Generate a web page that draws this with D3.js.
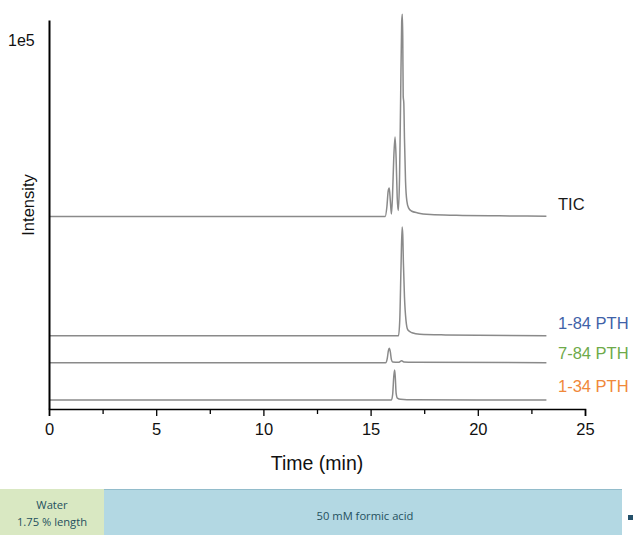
<!DOCTYPE html>
<html><head><meta charset="utf-8">
<script src="https://cdn.jsdelivr.net/npm/d3@7"></script>
<style>body{margin:0;background:#fff}svg{display:block}</style>
</head><body>
<svg id="c" width="634" height="535"></svg>
<script>
// ---- data (intensity in x1e5 arbitrary units, time in min) ----
const seriesNames = ["TIC", "1-84 PTH", "7-84 PTH", "1-34 PTH"];
const seriesColors = ["#1a1a1a", "#3f62a8", "#6eaa4a", "#f0883a"];
const seriesOffsets = [49.5, 18.8, 11.9, 2.3];
const ticData = [[0,0],[15.68,0],[15.76,2.5],[15.82,6.5],[15.87,7.3],[15.92,4],[15.97,0.6],[16.02,5],[16.08,15],[16.14,20.4],[16.19,15],[16.24,5],[16.29,1.5],[16.35,10],[16.40,30],[16.45,50],[16.48,52],[16.50,46],[16.52,31],[16.55,29],[16.58,20],[16.63,9],[16.69,4],[16.77,2.2],[16.9,1.4],[17.2,0.9],[17.8,0.5],[19,0.3],[21,0.15],[23.2,0.05]];
const pth184Data = [[0,0],[16.30,0],[16.36,4],[16.42,18],[16.47,28],[16.50,26],[16.53,18.8],[16.58,10],[16.65,4],[16.74,1.5],[16.93,0.8],[17.3,0.4],[18.5,0.25],[23.2,0.05]];
const pth784Data = [[0,0],[15.70,0],[15.78,1.2],[15.83,3.1],[15.87,3.7],[15.92,2.8],[15.97,0.8],[16.03,0.2],[16.3,0.1],[16.45,0.5],[16.55,0.2],[17,0.1],[23.2,0]];
const pth134Data = [[0,0],[15.97,0],[16.03,1.5],[16.08,6],[16.12,7.7],[16.15,6],[16.19,1.8],[16.25,0.5],[16.4,0.2],[17,0.05],[23.2,0]];
const seriesData = [ticData, pth184Data, pth784Data, pth134Data];
const xTicks = [0, 5, 10, 15, 20, 25];
const xMinorTicks = [2.5, 7.5, 12.5, 17.5, 22.5];
const bandLabels = [["Water", "1.75 % length"], ["50 mM formic acid"]];

// ---- drawing ----
const svg = d3.select("#c");
const x = d3.scaleLinear().domain([0, 25]).range([49, 585]);
const y = d3.scaleLinear().domain([0, 100]).range([409, 20]);
const font = "'Liberation Sans', Arial, sans-serif";

const line = d3.line().x(d => x(d[0])).y(d => y(d[1])).curve(d3.curveMonotoneX);
seriesData.forEach((data, i) => {
  const off = seriesOffsets[i];
  svg.append("path")
    .datum(data.map(d => [d[0], d[1] + off]))
    .attr("d", line)
    .attr("fill", "none")
    .attr("stroke", "#8a8a8a")
    .attr("stroke-width", 1.5);
});

// x axis
const xAxis = svg.append("g").attr("transform", `translate(0,${y(0)})`)
  .call(d3.axisBottom(x).tickValues(xTicks).tickSize(7).tickPadding(7).tickFormat(d3.format("d")));
xAxis.select(".domain").attr("stroke", "#000").attr("stroke-width", 1.6);
xAxis.selectAll(".tick line").attr("stroke", "#000").attr("stroke-width", 1.3);
xAxis.selectAll(".tick text").attr("font-family", font).attr("font-size", 16.5).attr("fill", "#111");
const xMinor = svg.append("g").attr("transform", `translate(0,${y(0)})`)
  .call(d3.axisBottom(x).tickValues(xMinorTicks).tickSize(5).tickFormat(""));
xMinor.select(".domain").remove();
xMinor.selectAll(".tick line").attr("stroke", "#000").attr("stroke-width", 1.3);

// y axis (line only)
const yAxis = svg.append("g").attr("transform", `translate(${x(0)},0)`)
  .call(d3.axisLeft(y).tickValues([]).tickSizeOuter(0));
yAxis.select(".domain").attr("stroke", "#000").attr("stroke-width", 2);

svg.append("text").attr("x", 8).attr("y", 46).text("1e5")
  .attr("font-family", font).attr("font-size", 16).attr("fill", "#111");
svg.append("text").attr("transform", "translate(34,205) rotate(-90)")
  .attr("text-anchor", "middle").text("Intensity")
  .attr("font-family", font).attr("font-size", 16.5).attr("fill", "#111");
svg.append("text").attr("x", (x(0) + x(25)) / 2).attr("y", 470)
  .attr("text-anchor", "middle").text("Time (min)")
  .attr("font-family", font).attr("font-size", 19.5).attr("fill", "#111");

// series labels
const labelY = [210, 329, 359, 392];
seriesNames.forEach((n, i) => {
  svg.append("text").attr("x", 558).attr("y", labelY[i]).text(n)
    .attr("font-family", font).attr("font-size", 16.5).attr("fill", seriesColors[i]);
});

// solvent band
const bandFont = "'Open Sans', 'Noto Sans', sans-serif";
svg.append("rect").attr("x", 0).attr("y", 489).attr("width", 104).attr("height", 46).attr("fill", "#d9e8c2");
svg.append("rect").attr("x", 104).attr("y", 489).attr("width", 518).attr("height", 46).attr("fill", "#b3d8e3");
svg.append("line").attr("x1", 104).attr("x2", 622).attr("y1", 489.5).attr("y2", 489.5).attr("stroke", "#92bccb").attr("stroke-width", 1);
svg.append("text").attr("x", 52).attr("y", 509).attr("text-anchor", "middle").text(bandLabels[0][0])
  .attr("font-family", bandFont).attr("font-size", 11.2).attr("fill", "#24505e");
svg.append("text").attr("x", 52).attr("y", 526).attr("text-anchor", "middle").text(bandLabels[0][1])
  .attr("font-family", bandFont).attr("font-size", 11.2).attr("fill", "#24505e");
svg.append("text").attr("x", 365).attr("y", 520).attr("text-anchor", "middle").text(bandLabels[1][0])
  .attr("font-family", bandFont).attr("font-size", 11.2).attr("fill", "#24505e");
svg.append("rect").attr("x", 628).attr("y", 515).attr("width", 5).attr("height", 5).attr("fill", "#24506a");
</script>
</body></html>
